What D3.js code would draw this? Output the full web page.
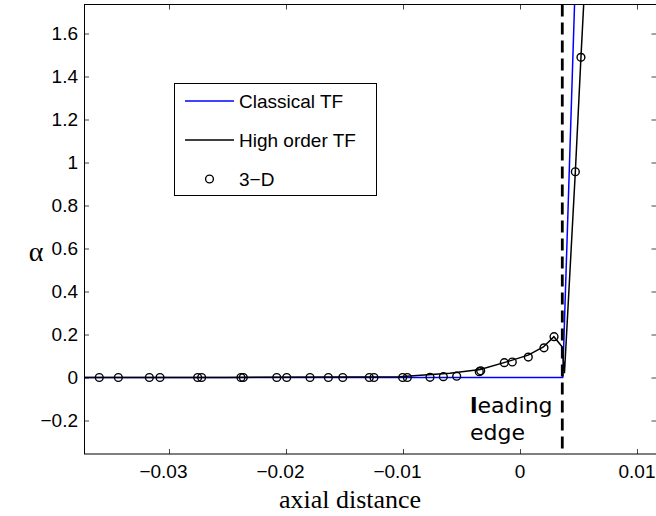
<!DOCTYPE html>
<html><head><meta charset="utf-8">
<script src="https://cdn.jsdelivr.net/npm/d3@7"></script>
<style>html,body{margin:0;padding:0;background:#fff;}</style>
</head><body>
<script>
// ---- data ----
const classicalX = [-0.0373, 0.00365, 0.00470];
const classicalY = [0, 0, 1.80];
const highX = [-0.0373, -0.025, -0.015, -0.0103, -0.0085, -0.0060, -0.0034, -0.0010, 0.0007, 0.0020, 0.0029, 0.0036, 0.0038, 0.00473, 0.00521, 0.0056];
const highY = [0, 0.0005, 0.002, 0.004, 0.011, 0.02, 0.037, 0.075, 0.104, 0.142, 0.19, 0.143, 0.02, 0.957, 1.489, 1.90];
const d3X = [-0.03596, -0.03433, -0.03168, -0.03077, -0.02755, -0.02721, -0.02385, -0.02365, -0.02079, -0.01994, -0.01795, -0.01638, -0.01515, -0.01288, -0.01248, -0.01003, -0.00963, -0.00769, -0.00655, -0.00541, -0.00348, -0.00336, -0.00134, -0.00066, 0.00071, 0.00205, 0.00291, 0.00473, 0.00521];
const d3Y = [0,0,0,0,0,0,0,0,0,0,0,0,0,0,0,0,0, 0.001, 0.004, 0.006, 0.027, 0.031, 0.069, 0.072, 0.095, 0.138, 0.190, 0.957, 1.489];
const leadingEdgeX = 0.003615;
const xTicks = [-0.03, -0.02, -0.01, 0, 0.01];
const xTickLabels = ["\u22120.03", "\u22120.02", "\u22120.01", "0", "0.01"];
const yTicks = [-0.2, 0, 0.2, 0.4, 0.6, 0.8, 1, 1.2, 1.4, 1.6];
const yTickLabels = ["\u22120.2", "0", "0.2", "0.4", "0.6", "0.8", "1", "1.2", "1.4", "1.6"];
const legendLabels = ["Classical TF", "High order TF", "3\u2212D"];
const xDomain = [-0.037265, 0.011667];
const yDomain = [-0.3558, 1.7349];

// ---- layout ----
const W = 656, H = 516;
const L = 84, R = 656.5, T = 4.5, B = 454;
const sans = "'Liberation Sans', Arial, Helvetica, sans-serif";
const serif = "'Liberation Serif', 'Times New Roman', serif";

const svg = d3.select("body").append("svg").attr("width", W).attr("height", H)
  .style("display","block");

const x = d3.scaleLinear().domain(xDomain).range([L, R]);
const y = d3.scaleLinear().domain(yDomain).range([B, T]);

svg.append("defs").append("clipPath").attr("id","clip")
  .append("rect").attr("x", L).attr("y", T).attr("width", R-L).attr("height", B-T);

// ticks (inward, all four sides)
const tl = 5;
const gAx = svg.append("g");
const bottomAxis = d3.axisBottom(x).tickValues(xTicks).tickSizeInner(-tl).tickSizeOuter(0).tickFormat("");
const topAxis = d3.axisTop(x).tickValues(xTicks).tickSizeInner(-tl).tickSizeOuter(0).tickFormat("");
const leftAxis = d3.axisLeft(y).tickValues(yTicks).tickSizeInner(-tl).tickSizeOuter(0).tickFormat("");
const rightAxis = d3.axisRight(y).tickValues(yTicks).tickSizeInner(-tl).tickSizeOuter(0).tickFormat("");
[[bottomAxis, `translate(0,${B})`],[topAxis, `translate(0,${T})`],[leftAxis, `translate(${L},0)`],[rightAxis, `translate(${R},0)`]]
  .forEach(([ax, tr]) => {
    const g = gAx.append("g").attr("transform", tr).call(ax);
    g.select(".domain").remove();
    g.selectAll(".tick line").attr("stroke", "#444").attr("stroke-width", 1);
  });

// plot lines
const line = d3.line().x(d => x(d[0])).y(d => y(d[1]));
const plot = svg.append("g").attr("clip-path", "url(#clip)");
plot.append("path").datum(classicalX.map((v,i)=>[v, classicalY[i]]))
  .attr("d", line).attr("fill","none").attr("stroke","#0000ff").attr("stroke-width",1.5);
plot.append("path").datum(highX.map((v,i)=>[v, highY[i]]))
  .attr("d", line).attr("fill","none").attr("stroke","#000").attr("stroke-width",1.5);
plot.selectAll("circle.pt").data(d3X.map((v,i)=>[v, d3Y[i]])).enter().append("circle")
  .attr("class","pt").attr("cx", d=>x(d[0])).attr("cy", d=>y(d[1])).attr("r", 3.9)
  .attr("fill","none").attr("stroke","#000").attr("stroke-width",1.4);
plot.append("line").attr("x1", x(leadingEdgeX)).attr("x2", x(leadingEdgeX))
  .attr("y1", y(yDomain[1])).attr("y2", y(yDomain[0]))
  .attr("stroke","#000").attr("stroke-width",2.8).attr("stroke-dasharray","12,6");

// box
svg.append("rect").attr("x", L+0.5).attr("y", T).attr("width", R-L).attr("height", B-T)
  .attr("fill","none").attr("stroke","#000").attr("stroke-width",1);

// x tick labels: numeric part centered on tick, minus hangs left
const fs = 19;
const measure = svg.append("text").attr("font-family", sans).attr("font-size", fs).attr("visibility","hidden");
xTicks.forEach((t,i) => {
  const lab = xTickLabels[i];
  const core = lab.replace("\u2212","");
  measure.text(core);
  const w = measure.node().getComputedTextLength();
  svg.append("text").attr("x", x(t) + w/2).attr("y", B + 24)
    .attr("text-anchor","end").attr("font-family", sans).attr("font-size", fs)
    .attr("fill","#000").text(lab);
});
measure.remove();
// y tick labels
yTicks.forEach((t,i) => {
  svg.append("text").attr("x", L - 6).attr("y", y(t)).attr("dy","0.35em")
    .attr("text-anchor","end").attr("font-family", sans).attr("font-size", fs)
    .attr("fill","#000").text(yTickLabels[i]);
});

// axis labels
svg.append("text").attr("x", 350).attr("y", 508).attr("text-anchor","middle")
  .attr("font-family", serif).attr("font-size", 26).attr("fill","#000").text("axial distance");
svg.append("text").attr("x", 36).attr("y", 261).attr("text-anchor","middle")
  .attr("font-family", serif).attr("font-size", 28).attr("fill","#000").text("\u03b1");

// leading edge annotation
const ann = svg.append("text").attr("font-family", "'DejaVu Sans', sans-serif").attr("font-size", 22).attr("fill","#000");
const t1 = ann.append("tspan").attr("x", 470).attr("y", 413);
t1.append("tspan").attr("font-weight","bold").text("l");
t1.append("tspan").text("eading");
ann.append("tspan").attr("x", 470).attr("y", 440).text("edge");

// legend
const lg = svg.append("g");
lg.append("rect").attr("x", 174.5).attr("y", 83.5).attr("width", 202).attr("height", 112)
  .attr("fill","#fff").attr("stroke","#000").attr("stroke-width",1);
const rows = [101, 140, 179];
lg.append("line").attr("x1",185).attr("x2",234).attr("y1",rows[0]).attr("y2",rows[0]).attr("stroke","#0000ff").attr("stroke-width",1.5);
lg.append("line").attr("x1",185).attr("x2",234).attr("y1",rows[1]).attr("y2",rows[1]).attr("stroke","#000").attr("stroke-width",1.5);
lg.append("circle").attr("cx",209.5).attr("cy",rows[2]).attr("r",3.9).attr("fill","none").attr("stroke","#000").attr("stroke-width",1.4);
legendLabels.forEach((s,i) => {
  lg.append("text").attr("x", 239).attr("y", rows[i]).attr("dy","0.35em")
    .attr("font-family", sans).attr("font-size", fs).attr("fill","#000").text(s);
});
</script>
</body></html>
